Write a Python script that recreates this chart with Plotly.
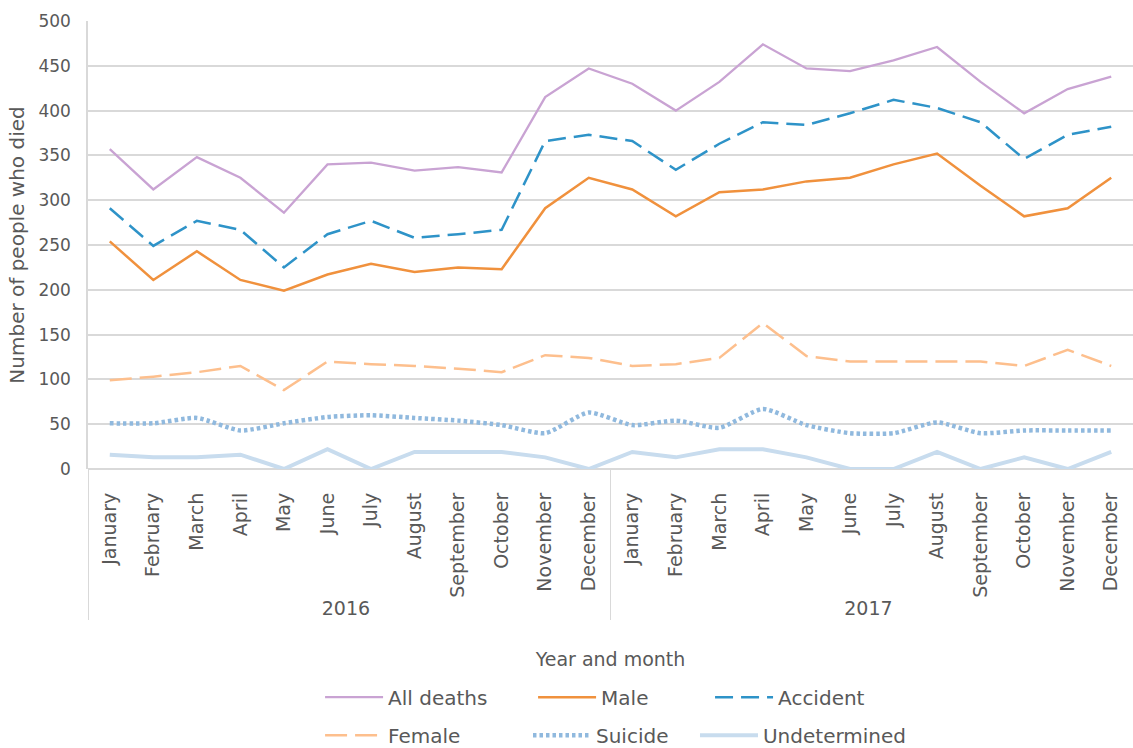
import plotly.graph_objects as go

years = ["2016"] * 12 + ["2017"] * 12
month_names = ["January", "February", "March", "April", "May", "June", "July",
               "August", "September", "October", "November", "December"]
months = month_names * 2

all_deaths = [357, 312, 348, 325, 286, 340, 342, 333, 337, 331, 415, 447,
              430, 400, 432, 474, 447, 444, 456, 471, 432, 397, 424, 438]
male = [254, 211, 243, 211, 199, 217, 229, 220, 225, 223, 291, 325,
        312, 282, 309, 312, 321, 325, 340, 352, 316, 282, 291, 325]
accident = [291, 249, 277, 267, 225, 262, 277, 258, 262, 267, 366, 373,
            366, 334, 363, 387, 384, 397, 412, 403, 387, 346, 373, 382]
female = [99, 103, 108, 115, 88, 120, 117, 115, 112, 108, 127, 124,
          115, 117, 124, 163, 126, 120, 120, 120, 120, 115, 133, 115]
suicide = [51, 51, 57, 43, 51, 58, 60, 57, 54, 49, 40, 63,
           49, 54, 46, 67, 49, 40, 40, 52, 40, 43, 43, 43]
undetermined = [16, 13, 13, 16, 0, 22, 0, 19, 19, 19, 13, 0,
                19, 13, 22, 22, 13, 0, 0, 19, 0, 13, 0, 19]

FONT = "DejaVu Sans"
TXT = "#595959"
GRID = "#d9d9d9"

x = [years, months]
fig = go.Figure()

# (name, values, line style, shape, legend id, legend x, legend y) -- legend refs are container-relative
series = [
    ("All deaths", all_deaths, dict(color="#c9a3d3", width=2.3), "linear", "legend", 0.2825, 0.068),
    ("Male", male, dict(color="#f0913d", width=2.5), "linear", "legend2", 0.4705, 0.068),
    ("Accident", accident, dict(color="#2e93c8", width=2.5, dash="18px,8px"), "linear", "legend3", 0.6267, 0.068),
    ("Female", female, dict(color="#fdbf8d", width=2.5, dash="22px,8px"), "linear", "legend4", 0.2825, 0.017),
    ("Suicide", suicide, dict(color="#90b9de", width=4.5, dash="3.5px,3px"), "spline", "legend5", 0.4660, 0.017),
    ("Undetermined", undetermined, dict(color="#c8dcee", width=4), "linear", "legend6", 0.6134, 0.017),
]

legends = {}
for name, vals, line, shape, leg, lx, ly in series:
    line = dict(line)
    line["shape"] = shape
    if shape == "spline":
        line["smoothing"] = 0.6
    fig.add_trace(go.Scatter(x=x, y=vals, name=name, mode="lines", line=line,
                             legend=leg, showlegend=True))
    legends[leg] = dict(orientation="h", xref="container", yref="container",
                        x=lx, y=ly, xanchor="left", yanchor="middle",
                        font=dict(family=FONT, size=20, color=TXT),
                        bgcolor="rgba(0,0,0,0)", itemwidth=58)

fig.update_layout(
    width=1133, height=748, showlegend=True,
    margin=dict(l=88, r=0, t=21, b=279, autoexpand=False),
    paper_bgcolor="white", plot_bgcolor="white",
    font=dict(family=FONT, color=TXT),
    **legends,
    xaxis=dict(
        type="multicategory", tickangle=-90, range=[-0.5, 23.5], automargin=False,
        tickfont=dict(family=FONT, size=19, color=TXT),
        showdividers=True, dividercolor=GRID, dividerwidth=1,
        showgrid=False, showline=False,
        ticklabelstandoff=19,
        title=dict(text="Year and month", font=dict(family=FONT, size=19, color=TXT), standoff=34),
    ),
    yaxis=dict(
        range=[0, 500], dtick=50, showgrid=True, gridcolor=GRID, gridwidth=1.5, automargin=False,
        showline=True, linecolor=GRID, linewidth=1.5, zeroline=True, zerolinecolor=GRID,
        tickfont=dict(family=FONT, size=17, color=TXT),
        ticks="outside", ticklen=12, tickcolor="rgba(0,0,0,0)",
        title=dict(text="Number of people who died", font=dict(family=FONT, size=20, color=TXT), standoff=8),
    ),
)

fig.write_html("out.html", config={"displayModeBar": False},
               post_script="document.body.style.margin='0';")
